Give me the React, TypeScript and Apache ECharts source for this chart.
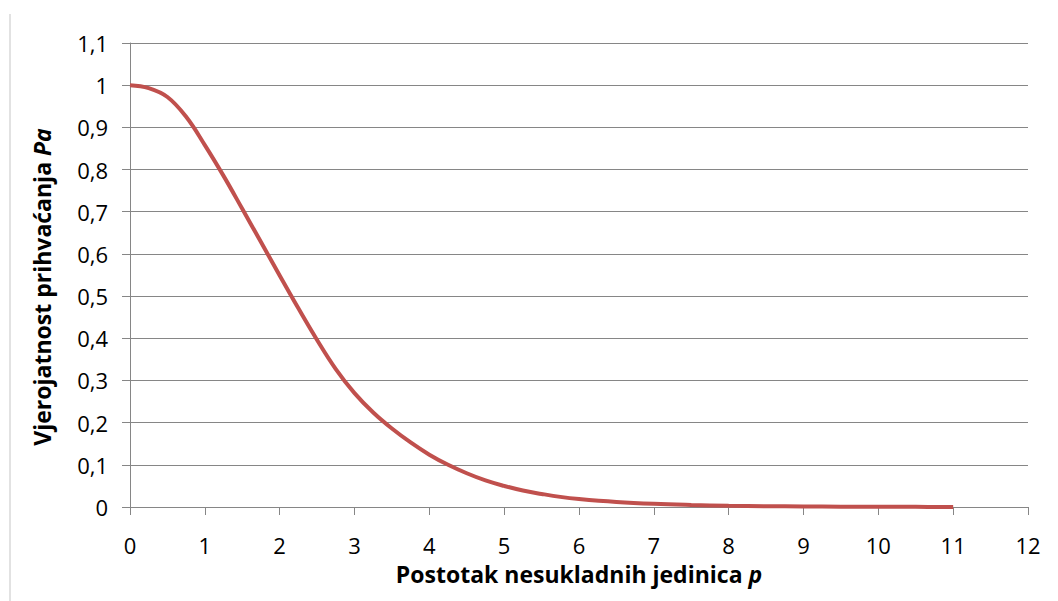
import React, { useEffect, useRef } from "react";
import * as echarts from "echarts";

const pValues = [0, 0.25, 0.5, 0.75, 1, 1.25, 1.5, 1.75, 2, 2.25, 2.5, 2.75, 3, 3.25, 3.5, 3.75, 4, 4.25, 4.5, 4.75, 5, 5.25, 5.5, 5.75, 6, 6.5, 7, 7.5, 8, 8.5, 9, 9.5, 10, 10.5, 11];
const paValues = [1.0, 0.993, 0.972, 0.925, 0.858, 0.785, 0.707, 0.628, 0.549, 0.471, 0.396, 0.327, 0.27, 0.224, 0.186, 0.153, 0.124, 0.1, 0.08, 0.063, 0.05, 0.039, 0.031, 0.024, 0.019, 0.012, 0.0075, 0.0048, 0.003, 0.0019, 0.0012, 0.0008, 0.0005, 0.0003, 0.0002];
const xTicks = { min: 0, max: 12, interval: 1 };
const yTicks = { min: 0, max: 1.1, interval: 0.1 };
const xTitle = "Postotak nesukladnih jedinica ";
const xTitleVar = "p";
const yTitle = "Vjerojatnost prihvaćanja ";
const yTitleVar = "Pa";

const FONT = "'Open Sans', 'Liberation Sans', sans-serif";
const GRAY = "#868686";
const FS = 22;
const TFS = 23;

export default function App() {
  const ref = useRef<HTMLDivElement>(null);
  useEffect(() => {
    document.body.style.margin = "0";
    const chart = echarts.init(ref.current!, null, { renderer: "svg" });
    const data = pValues.map((p, i) => [p, paValues[i]]);
    const rich = {
      b: { fontSize: TFS, fontWeight: "bold", fontFamily: FONT, fill: "#000", lineHeight: 18 },
      bi: { fontSize: TFS, fontWeight: "bold", fontStyle: "italic", fontFamily: FONT, fill: "#000", lineHeight: 18 },
    };
    chart.setOption({
      animation: false,
      backgroundColor: "#ffffff",
      grid: { left: 130, right: 30, top: 43, bottom: 94, containLabel: false },
      xAxis: {
        type: "value",
        min: xTicks.min,
        max: xTicks.max,
        interval: xTicks.interval,
        axisLine: { show: true, onZero: false, lineStyle: { color: GRAY, width: 1 } },
        axisTick: { show: true, length: 8, lineStyle: { color: GRAY, width: 1 } },
        splitLine: { show: false },
        axisLabel: { color: "#000", fontSize: FS, fontFamily: FONT, margin: 29, lineHeight: 18 },
      },
      yAxis: {
        type: "value",
        min: yTicks.min,
        max: yTicks.max,
        interval: yTicks.interval,
        axisLine: { show: true, lineStyle: { color: GRAY, width: 1 } },
        axisTick: { show: true, length: 8, lineStyle: { color: GRAY, width: 1 } },
        splitLine: { show: true, lineStyle: { color: GRAY, width: 1 } },
        axisLabel: {
          color: "#000",
          fontSize: FS,
          fontFamily: FONT,
          margin: 22,
          formatter: (v: number) => String(Math.round(v * 10) / 10).replace(".", ","),
        },
      },
      series: [
        {
          type: "line",
          data,
          smooth: 0.4,
          showSymbol: false,
          symbol: "none",
          lineStyle: { color: "#C0504D", width: 4 },
        },
      ],
      graphic: [
        {
          type: "line",
          shape: { x1: 10, y1: 14, x2: 10, y2: 601 },
          style: { stroke: "#e2e2e2", lineWidth: 2 },
        },
        {
          type: "text",
          x: 579,
          y: 574,
          style: {
            text: `{b|${xTitle}}{bi|${xTitleVar}}`,
            align: "center",
            verticalAlign: "middle",
            rich,
          },
        },
        {
          type: "text",
          x: 42,
          y: 287,
          rotation: Math.PI / 2,
          style: {
            text: `{b|${yTitle}}{bi|${yTitleVar}}`,
            align: "center",
            verticalAlign: "middle",
            rich,
          },
        },
      ],
    });
    return () => chart.dispose();
  }, []);
  return <div ref={ref} style={{ width: 1058, height: 601 }} />;
}
